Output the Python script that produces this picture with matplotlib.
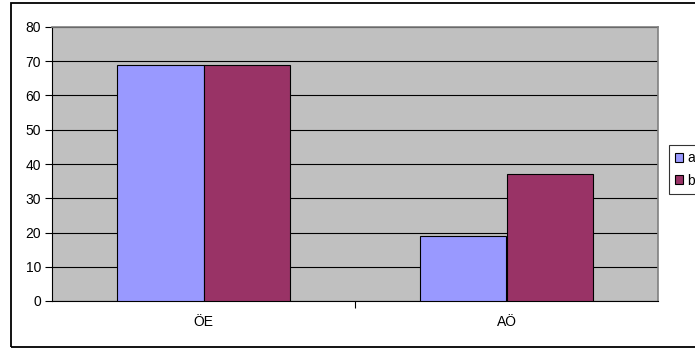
import matplotlib
matplotlib.use("Agg")
import matplotlib.pyplot as plt
import numpy as np
from matplotlib.patches import Rectangle

categories = ["ÖE", "AÖ"]
series_names = ["a", "b"]
values_a = [69, 19]
values_b = [69, 37]
yticks = [0, 10, 20, 30, 40, 50, 60, 70, 80]

plt.rcParams['font.family'] = ['Liberation Sans', 'DejaVu Sans']
FS = 10

fig = plt.figure(figsize=(6.95, 3.49), dpi=100)
W, H = 695, 349

# outer chart border
fig.patches.append(Rectangle((11 / W, 2 / H), 1.0, 1 - 5 / H, transform=fig.transFigure,
                             fill=False, edgecolor='black', linewidth=1.3, figure=fig))

ax = fig.add_axes([52 / W, 1 - 301 / H, 606 / W, 274 / H])
ax.set_facecolor('#C0C0C0')

x = np.arange(len(categories))
bw = 0.287
ax.bar(x - bw / 2, values_a, width=bw, color='#9999FF', edgecolor='black', linewidth=0.8,
       label=series_names[0], zorder=3)
ax.bar(x + bw / 2, values_b, width=bw, color='#993366', edgecolor='black', linewidth=0.8,
       label=series_names[1], zorder=3)

ax.set_xlim(-0.5, 1.5)
ax.set_ylim(0, 80)
ax.set_yticks(yticks)
ax.set_yticklabels([str(v) for v in yticks], fontsize=FS)
ax.yaxis.grid(True, color='black', linewidth=0.8, zorder=1)
ax.set_axisbelow(True)

ax.set_xticks([0.5], minor=False)
ax.set_xticklabels([])
ax.set_xticks(x, minor=True)
ax.set_xticklabels(categories, minor=True, fontsize=FS)
ax.tick_params(axis='x', which='minor', length=0, pad=10)
ax.tick_params(axis='x', which='major', length=5, width=0.8, direction='out')
ax.tick_params(axis='y', length=5, width=0.8, direction='out', pad=3)

for s in ['top', 'right']:
    ax.spines[s].set_color('#808080')
    ax.spines[s].set_linewidth(1.2)
for s in ['left', 'bottom']:
    ax.spines[s].set_color('black')
    ax.spines[s].set_linewidth(0.8)

leg = ax.legend(loc='upper left', bbox_to_anchor=(669 / W, 1 - 145 / H),
                bbox_transform=fig.transFigure, fontsize=FS, frameon=True,
                fancybox=False, edgecolor='black', handlelength=0.55, handleheight=0.55,
                handletextpad=0.3, borderpad=0.45, labelspacing=0.6, borderaxespad=0)
leg.get_frame().set_linewidth(0.8)

fig.savefig('out.png', dpi=100)
